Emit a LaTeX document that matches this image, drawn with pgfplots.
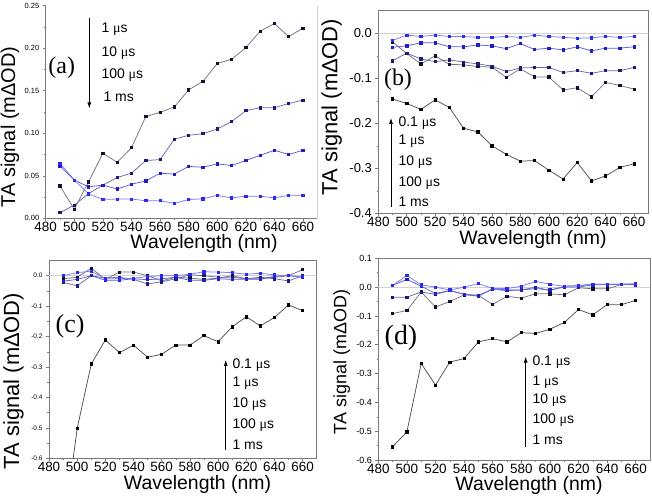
\documentclass[border=0pt]{standalone}
\usepackage{fontspec}
\setmainfont{Liberation Sans}
\newfontfamily\ser{Liberation Serif}
\usepackage{pgfplots}
\pgfplotsset{compat=1.18}
\usetikzlibrary{arrows.meta}

\definecolor{lA}{HTML}{505050}
\definecolor{lB}{HTML}{74747E}
\definecolor{lC}{HTML}{6A6AA6}
\definecolor{lD}{HTML}{5C5CDC}
\definecolor{lE}{HTML}{7A7AFF}
\definecolor{mB}{HTML}{101030}
\definecolor{mC}{HTML}{1C1C78}
\definecolor{mD}{HTML}{2020C0}
\definecolor{mE}{HTML}{2A2AF0}
\definecolor{frame}{HTML}{7A7A7A}

\pgfplotsset{
  s0/.style={lA, mark=square*, mark options={fill=black, draw=black}},
  s1/.style={lB, mark=square*, mark options={fill=mB, draw=mB}},
  s2/.style={lC, mark=square*, mark options={fill=mC, draw=mC}},
  s3/.style={lD, mark=square*, mark options={fill=mD, draw=mD}},
  s4/.style={lE, mark=square*, mark options={fill=mE, draw=mE}},
  panel/.style={
    scale only axis, anchor=south west,
    xmin=480, xmax=670, xtick={480,500,...,660}, minor x tick num=1,
    tick align=outside, tick pos=left,
    axis line style={frame, line width=0.6pt},
    major tick length=3bp, minor tick length=1.8bp,
    every tick/.style={frame, line width=0.5pt},
    x tick label style={font=\fontsize{13.5}{14}\selectfont, inner sep=0.8pt},
    /pgf/number format/assume math mode=true,
    every axis plot/.append style={line width=0.75pt, mark size=1.15bp},
  },
}

\newcommand{\mus}{{\ser μ}s}

\begin{document}
\begin{tikzpicture}
\useasboundingbox (0bp,0bp) rectangle (652bp,499bp);

% ---------------- (a)
\begin{axis}[panel, at={(45.7bp,280.7bp)}, width=271.6bp, height=212.6bp,
  ymin=0, ymax=0.25, ytick={0,0.05,...,0.25}, minor y tick num=1,
  axis x line*=bottom, axis y line*=left,
  y tick label style={font=\fontsize{7.5}{8}\selectfont, /pgf/number format/.cd, fixed, fixed zerofill, precision=2}]
\addplot[s1] coordinates {(490,0.038)(500,0.0106)(510,0.043)(520,0.0764)(530,0.0658)(540,0.083)(550,0.1195)(560,0.1246)(570,0.131)(580,0.151)(590,0.161)(600,0.182)(610,0.187)(620,0.2006)(630,0.220)(640,0.229)(650,0.2136)(660,0.2237)};
\addplot[s2] coordinates {(490,0.0066)(500,0.0156)(510,0.029)(520,0.039)(530,0.048)(540,0.053)(550,0.068)(560,0.069)(570,0.093)(580,0.0976)(590,0.0995)(600,0.105)(610,0.1136)(620,0.1266)(630,0.130)(640,0.130)(650,0.135)(660,0.139)};
\addplot[s3] coordinates {(490,0.0615)(500,0.045)(510,0.037)(520,0.039)(530,0.0345)(540,0.040)(550,0.044)(560,0.053)(570,0.052)(580,0.061)(590,0.060)(600,0.064)(610,0.062)(620,0.068)(630,0.074)(640,0.080)(650,0.075)(660,0.080)};
\addplot[s4] coordinates {(490,0.0647)(500,0.045)(510,0.0286)(520,0.0223)(530,0.0226)(540,0.0226)(550,0.0207)(560,0.0207)(570,0.0176)(580,0.022)(590,0.023)(600,0.027)(610,0.024)(620,0.026)(630,0.026)(640,0.024)(650,0.027)(660,0.027)};
\draw[frame, line width=0.6pt] (rel axis cs:1,0) -- (rel axis cs:1,1);
\end{axis}

% ---------------- (b)
\begin{axis}[panel, at={(378.3bp,285.7bp)}, width=270bp, height=202.5bp,
  ymin=-0.4, ymax=0.05, ytick={-0.4,-0.3,...,0.0}, minor y tick num=1,
  y tick label style={font=\fontsize{13}{14}\selectfont, /pgf/number format/.cd, fixed, fixed zerofill, precision=1}]
\addplot[gray!35, line width=0.6pt, no marks] coordinates {(470,0)(680,0)};
\addplot[s0] coordinates {(490,-0.146)(500,-0.156)(510,-0.169)(520,-0.148)(530,-0.165)(540,-0.211)(550,-0.219)(560,-0.250)(570,-0.269)(580,-0.284)(590,-0.283)(600,-0.304)(610,-0.324)(620,-0.287)(630,-0.328)(640,-0.317)(650,-0.298)(660,-0.290)};
\addplot[s1] coordinates {(490,-0.019)(500,-0.045)(510,-0.068)(520,-0.050)(530,-0.069)(540,-0.070)(550,-0.074)(560,-0.075)(570,-0.098)(580,-0.079)(590,-0.097)(600,-0.097)(610,-0.126)(620,-0.121)(630,-0.141)(640,-0.109)(650,-0.116)(660,-0.124)};
\addplot[s2] coordinates {(490,-0.061)(500,-0.044)(510,-0.057)(520,-0.063)(530,-0.059)(540,-0.064)(550,-0.068)(560,-0.073)(570,-0.085)(580,-0.077)(590,-0.076)(600,-0.076)(610,-0.087)(620,-0.083)(630,-0.089)(640,-0.083)(650,-0.083)(660,-0.076)};
\addplot[s3] coordinates {(490,-0.031)(500,-0.028)(510,-0.021)(520,-0.021)(530,-0.030)(540,-0.030)(550,-0.026)(560,-0.028)(570,-0.034)(580,-0.023)(590,-0.036)(600,-0.033)(610,-0.037)(620,-0.030)(630,-0.039)(640,-0.033)(650,-0.033)(660,-0.030)};
\addplot[s4] coordinates {(490,-0.016)(500,-0.004)(510,-0.007)(520,-0.004)(530,-0.007)(540,-0.007)(550,-0.009)(560,-0.009)(570,-0.007)(580,-0.009)(590,-0.004)(600,-0.007)(610,-0.009)(620,-0.011)(630,-0.010)(640,-0.007)(650,-0.009)(660,-0.007)};
\end{axis}

% ---------------- (c)
\begin{axis}[panel, at={(49bp,40.7bp)}, width=267.7bp, height=197.8bp,
  ymin=-0.6, ymax=0.05, ytick={-0.6,-0.5,...,0.0}, minor y tick num=1,
  y tick label style={font=\fontsize{6.5}{7}\selectfont, /pgf/number format/.cd, fixed, fixed zerofill, precision=1}]
\addplot[gray!35, line width=0.6pt, no marks] coordinates {(470,0)(680,0)};
\addplot[s0] coordinates {(490,-0.85)(500,-0.502)(510,-0.290)(520,-0.211)(530,-0.253)(540,-0.228)(550,-0.268)(560,-0.258)(570,-0.228)(580,-0.228)(590,-0.197)(600,-0.217)(610,-0.168)(620,-0.135)(630,-0.165)(640,-0.137)(650,-0.096)(660,-0.115)};
\addplot[s1] coordinates {(490,-0.010)(500,-0.005)(510,0.025)(520,-0.012)(530,0.012)(540,0.012)(550,0.000)(560,-0.017)(570,-0.005)(580,-0.008)(590,-0.012)(600,-0.008)(610,0.000)(620,-0.010)(630,-0.010)(640,-0.005)(650,0.000)(660,0.020)};
\addplot[s2] coordinates {(490,-0.022)(500,-0.033)(510,0.000)(520,-0.008)(530,-0.005)(540,-0.012)(550,-0.027)(560,-0.020)(570,-0.010)(580,0.003)(590,0.000)(600,-0.005)(610,-0.005)(620,-0.010)(630,-0.005)(640,-0.010)(650,-0.017)(660,0.000)};
\addplot[s3] coordinates {(490,-0.018)(500,-0.012)(510,0.000)(520,-0.015)(530,-0.015)(540,-0.010)(550,-0.013)(560,-0.010)(570,-0.005)(580,-0.015)(590,-0.015)(600,-0.010)(610,-0.012)(620,-0.012)(630,-0.012)(640,-0.002)(650,0.000)(660,-0.005)};
\addplot[s4] coordinates {(490,0.000)(500,0.010)(510,0.015)(520,-0.010)(530,-0.010)(540,-0.008)(550,-0.003)(560,0.000)(570,0.000)(580,0.005)(590,0.013)(600,0.012)(610,0.010)(620,0.005)(630,0.008)(640,0.003)(650,0.000)(660,-0.003)};
\end{axis}

% ---------------- (d)
\begin{axis}[panel, at={(378.3bp,39bp)}, width=271.7bp, height=201.7bp,
  ymin=-0.6, ymax=0.1, ytick={-0.6,-0.5,...,0.1}, minor y tick num=1,
  y tick label style={font=\fontsize{9}{10}\selectfont, /pgf/number format/.cd, fixed, fixed zerofill, precision=1}]
\addplot[gray!35, line width=0.6pt, no marks] coordinates {(470,0)(680,0)};
\addplot[s0] coordinates {(490,-0.554)(500,-0.502)(510,-0.265)(520,-0.340)(530,-0.260)(540,-0.248)(550,-0.190)(560,-0.179)(570,-0.190)(580,-0.158)(590,-0.161)(600,-0.146)(610,-0.123)(620,-0.078)(630,-0.096)(640,-0.061)(650,-0.061)(660,-0.046)};
\addplot[s1] coordinates {(490,-0.092)(500,-0.081)(510,-0.017)(520,-0.069)(530,-0.050)(540,-0.027)(550,-0.029)(560,-0.060)(570,-0.032)(580,-0.038)(590,-0.023)(600,-0.023)(610,-0.027)(620,-0.002)(630,-0.006)(640,-0.006)(650,0.009)(660,0.009)};
\addplot[s2] coordinates {(490,-0.035)(500,-0.035)(510,-0.017)(520,-0.025)(530,-0.012)(540,-0.025)(550,-0.028)(560,-0.008)(570,-0.012)(580,-0.010)(590,0.000)(600,-0.012)(610,0.003)(620,0.005)(630,0.010)(640,0.010)(650,0.010)(660,0.010)};
\addplot[s3] coordinates {(490,0.006)(500,0.027)(510,0.003)(520,-0.022)(530,-0.012)(540,-0.025)(550,-0.032)(560,-0.005)(570,-0.010)(580,-0.010)(590,-0.005)(600,-0.010)(610,0.000)(620,0.000)(630,0.008)(640,0.008)(650,0.010)(660,0.008)};
\addplot[s4] coordinates {(490,0.006)(500,0.040)(510,0.008)(520,0.000)(530,-0.010)(540,0.000)(550,0.012)(560,-0.005)(570,-0.005)(580,0.003)(590,0.020)(600,0.010)(610,0.003)(620,0.005)(630,0.010)(640,0.010)(650,0.010)(660,0.012)};
\end{axis}

% ---------------- labels
\def\lab{\fontsize{19.5}{21}\selectfont}
\node[rotate=90, font=\fontsize{20}{22}\selectfont] at (10bp,372bp) {TA signal (mΔOD)};
\node[rotate=90, font=\fontsize{22}{24}\selectfont] at (331.7bp,392bp) {TA signal (mΔOD)};
\node[rotate=90, font=\fontsize{22}{24}\selectfont] at (13.5bp,118bp) {TA signal (mΔOD)};
\node[rotate=90, font=\fontsize{18}{20}\selectfont] at (341.7bp,137bp) {TA signal (mΔOD)};
\node[font=\lab, inner sep=0pt] at (204bp,255.5bp) {Wavelength (nm)};
\node[font=\lab, inner sep=0pt] at (533bp,259.5bp) {Wavelength (nm)};
\node[font=\lab, inner sep=0pt] at (197.5bp,15bp) {Wavelength (nm)};
\node[font=\lab, inner sep=0pt] at (529bp,13.5bp) {Wavelength (nm)};

% panel tags
\node[font=\ser\fontsize{24}{26}\selectfont] at (61.7bp,431bp) {(a)};
\node[font=\ser\fontsize{24}{26}\selectfont] at (398bp,419bp) {(b)};
\node[font=\ser\fontsize{26}{28}\selectfont] at (70bp,173bp) {(c)};
\node[font=\ser\fontsize{28}{30}\selectfont] at (401bp,161bp) {(d)};

% time annotations
\def\tf{\fontsize{14}{15}\selectfont}
\draw[-{Latex[length=6bp,width=4bp]}, line width=0.7pt] (89.3bp,480.7bp) -- (89.3bp,390.7bp);
\node[font=\tf, anchor=west] at (98bp,470bp) {1 \mus};
\node[font=\tf, anchor=west] at (98bp,446bp) {10 \mus};
\node[font=\tf, anchor=west] at (98bp,424bp) {100 \mus};
\node[font=\tf, anchor=west] at (100bp,402bp) {1 ms};

\draw[-{Latex[length=6bp,width=4bp]}, line width=0.7pt] (391bp,292bp) -- (391bp,381bp);
\node[font=\tf, anchor=west] at (395bp,376bp) {0.1 \mus};
\node[font=\tf, anchor=west] at (395bp,358bp) {1 \mus};
\node[font=\tf, anchor=west] at (395bp,337bp) {10 \mus};
\node[font=\tf, anchor=west] at (395bp,316bp) {100 \mus};
\node[font=\tf, anchor=west] at (395bp,297bp) {1 ms};

\draw[-{Latex[length=6bp,width=4bp]}, line width=0.7pt] (225.7bp,49bp) -- (225.7bp,139bp);
\node[font=\tf, anchor=west] at (229bp,134bp) {0.1 \mus};
\node[font=\tf, anchor=west] at (229bp,115.7bp) {1 \mus};
\node[font=\tf, anchor=west] at (229bp,95bp) {10 \mus};
\node[font=\tf, anchor=west] at (229bp,74bp) {100 \mus};
\node[font=\tf, anchor=west] at (229bp,54bp) {1 ms};

\draw[-{Latex[length=6bp,width=4bp]}, line width=0.7pt] (525.7bp,52.3bp) -- (525.7bp,142.3bp);
\node[font=\tf, anchor=west] at (529bp,137.3bp) {0.1 \mus};
\node[font=\tf, anchor=west] at (529bp,117.3bp) {1 \mus};
\node[font=\tf, anchor=west] at (529bp,99bp) {10 \mus};
\node[font=\tf, anchor=west] at (529bp,79bp) {100 \mus};
\node[font=\tf, anchor=west] at (529bp,59bp) {1 ms};
\end{tikzpicture}
\end{document}
